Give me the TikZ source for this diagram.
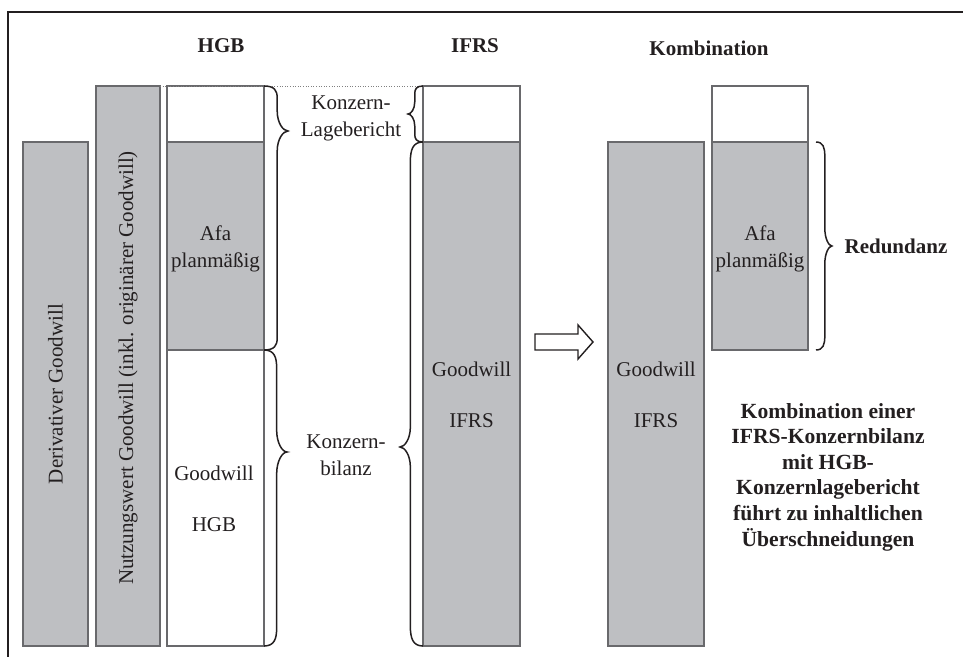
\documentclass[tikz,border=0pt]{standalone}
\usepackage{fontspec}
\setmainfont{Liberation Serif}

\definecolor{barfill}{RGB}{190,191,194}
\definecolor{baredge}{RGB}{105,105,108}
\definecolor{ink}{RGB}{35,31,32}

\tikzset{
  bar/.style={fill=barfill, draw=baredge, line width=0.6pt},
  blank/.style={fill=white, draw=baredge, line width=0.6pt},
  brc/.style={draw=ink, line width=0.75pt},
}

% vertical brace: x, y top, y bottom, y tip, amplitude (signed), end radius, tip radius
\newcommand{\bracev}[7]{%
  \draw [brc] (#1,#2) .. controls ({#1+0.45*#5},#2) and ({#1+0.55*#5},{#2+0.4*#6}) .. ({#1+0.55*#5},{#2+#6})
    -- ({#1+0.55*#5},{#4-#7}) .. controls ({#1+0.55*#5},{#4-0.4*#7}) and ({#1+0.8*#5},#4) .. ({#1+#5},#4)
    .. controls ({#1+0.8*#5},#4) and ({#1+0.55*#5},{#4+0.4*#7}) .. ({#1+0.55*#5},{#4+#7})
    -- ({#1+0.55*#5},{#3-#6}) .. controls ({#1+0.55*#5},{#3-0.4*#6}) and ({#1+0.45*#5},#3) .. (#1,#3);}

\begin{document}
\begin{tikzpicture}[%
      x=0.5pt, y=-0.5pt,
      font=\fontsize{10.5}{13.5}\selectfont,
      text=ink,
      ]
      \useasboundingbox (0,0) rectangle (963,657);
      \draw [ink, line width=1.1pt] (8,657) -- (8,12) -- (963,12);

      % headings
      \node (hgbhead) at (221,46) {\bfseries HGB};
      \node (ifrshead) at (475,46) {\bfseries IFRS};
      \node (kombhead) at (709,48) {\bfseries Kombination};

      % HGB side
      \draw [bar] (23,142) rectangle (88,646);
      \draw [bar] (96,86) rectangle (160,646);
      \draw [blank] (167,86) rectangle (264,142);
      \draw [bar] (167,142) rectangle (264,350);
      \draw [blank] (167,350) rectangle (264,646);
      \draw [densely dotted, gray, line width=0.3pt] (160,86) -- (423,86);

      \node [rotate=90] (derivativ) at (55.5,394) {Derivativer Goodwill};
      \node [rotate=90] (nutzung) at (128,368) {Nutzungswert Goodwill (inkl. origin\"arer Goodwill)};
      \node [align=center] (hgbafa) at (215.5,249) {Afa\\planm\"a\ss ig};
      \node (hgbgw) at (214,473) {Goodwill};
      \node (hgbname) at (214,525) {HGB};

      % IFRS side
      \draw [blank] (423,86) rectangle (520,142);
      \draw [bar] (423,142) rectangle (520,646);
      \node (ifrsgw) at (471.5,369) {Goodwill};
      \node (ifrsname) at (471.5,421) {IFRS};

      % braces and their labels
      \bracev{264}{86}{350}{131}{24}{12}{20}
      \bracev{264}{350}{646}{452}{23}{18}{22}
      \bracev{423}{86}{142}{114}{-15}{8}{12}
      \bracev{423}{142}{646}{447}{-23}{20}{20}
      \node [align=center] (lagebericht) at (351,118) {Konzern-\\Lagebericht};
      \node [align=center] (bilanz) at (346,455) {Konzern-\\bilanz};

      % transition arrow
      \draw [ink, line width=0.7pt, fill=white] (535,334) -- (578,334) -- (578,325)
            -- (593,342) -- (578,359) -- (578,350) -- (535,350) -- cycle;

      % Kombination
      \draw [bar] (608,142) rectangle (704,646);
      \draw [blank] (712,86) rectangle (808,142);
      \draw [bar] (712,142) rectangle (808,350);
      \node (kombgw) at (656,369) {Goodwill};
      \node (kombname) at (656,421) {IFRS};
      \node [align=center] (kombafa) at (760,249) {Afa\\planm\"a\ss ig};
      \bracev{816}{142}{350}{246}{16}{14}{18}
      \node (redundanz) at (896,246) {\bfseries Redundanz};

      \node [align=center, font=\fontsize{10.8}{12.8}\selectfont\bfseries] (fazit) at (828,477)
            {Kombination einer\\IFRS-Konzernbilanz\\mit HGB-\\Konzernlagebericht\\f\"uhrt zu inhaltlichen\\\"Uberschneidungen};
      \end{tikzpicture}
\end{document}
